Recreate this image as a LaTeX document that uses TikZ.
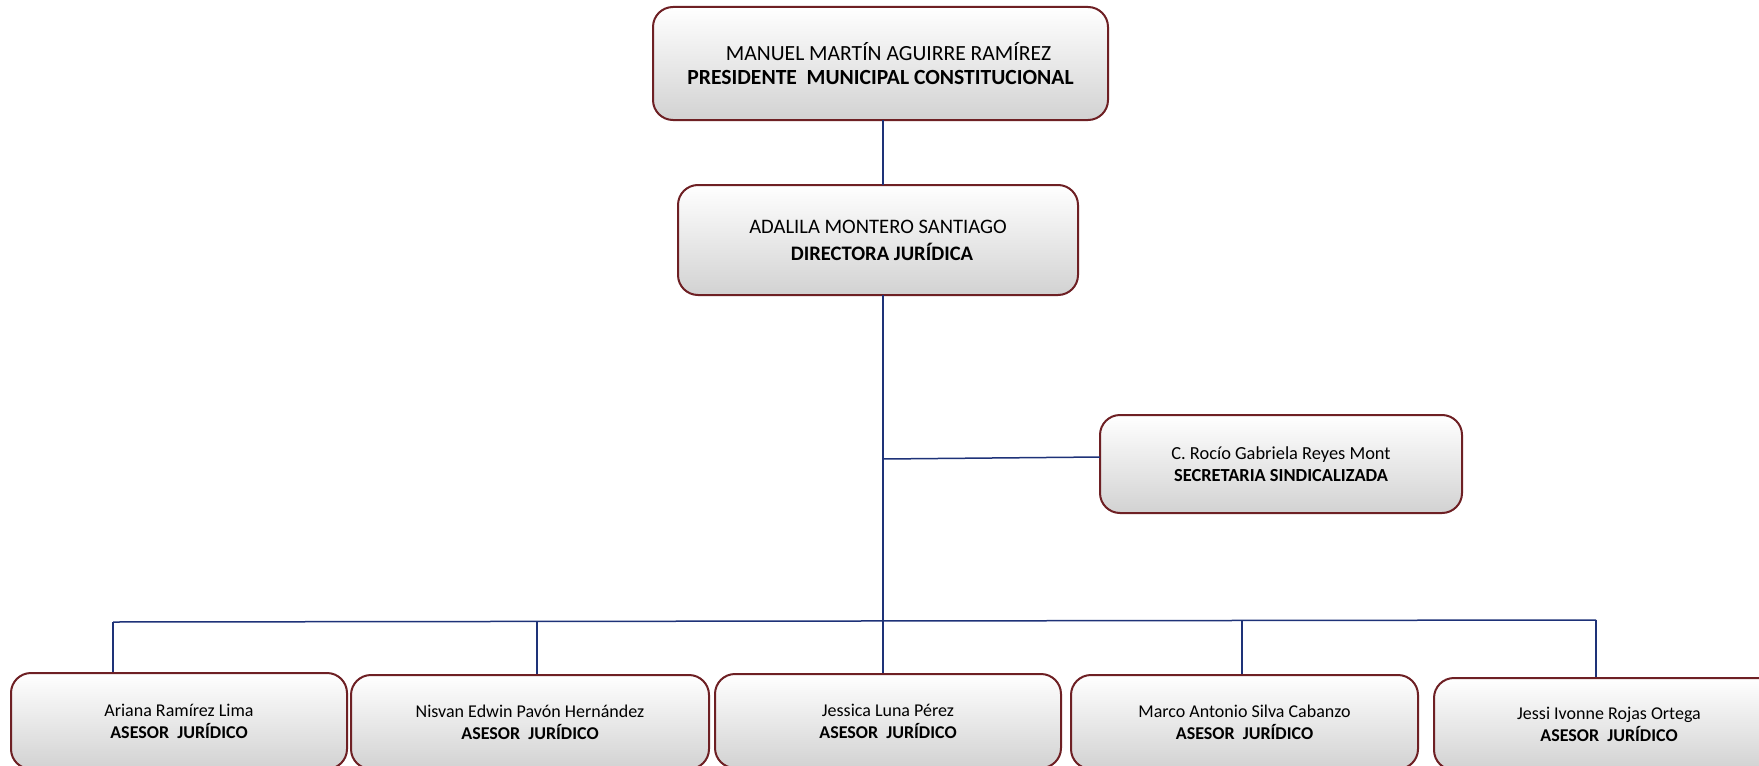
\documentclass[tikz,border=0pt]{standalone}
\usepackage{fontspec}
\setmainfont{Carlito}
\definecolor{boxedge}{RGB}{110,32,36}
\definecolor{boxbot}{RGB}{210,210,210}
\definecolor{linkcol}{RGB}{30,50,120}
\tikzset{
  orgbox/.style={draw=boxedge, line width=1pt, rounded corners=10pt,
    top color=white, bottom color=boxbot, align=center, inner sep=0pt},
  bigtxt/.style={font=\fontsize{10.8}{12.4}\selectfont},
  dirtxt/.style={font=\fontsize{10.3}{13.6}\selectfont},
  smalltxt/.style={font=\fontsize{9}{11}\selectfont},
  midtxt/.style={font=\fontsize{9.2}{11.2}\selectfont},
  link/.style={draw=linkcol, line width=0.75pt}
}
\begin{document}
\begin{tikzpicture}[x=0.5pt,y=-0.5pt]
\clip (0,0) rectangle (1759,765);
\fill[white] (0,0) rectangle (1759,765);
% boxes
\node[orgbox,bigtxt,minimum width=227.5pt,minimum height=56.5pt] (pres) at (880.5,63.5)
  {\hspace*{8pt}MANUEL MARTÍN AGUIRRE RAMÍREZ\\\textbf{PRESIDENTE\ \ MUNICIPAL CONSTITUCIONAL}};
\node[orgbox,dirtxt,minimum width=200pt,minimum height=55pt] (dir) at (878,240)
  {ADALILA MONTERO SANTIAGO\\\hspace*{4pt}\textbf{DIRECTORA JURÍDICA}};
\node[orgbox,midtxt,minimum width=181pt,minimum height=49pt] (sec) at (1281,464)
  {C. Rocío Gabriela Reyes Mont\\\textbf{SECRETARIA SINDICALIZADA}};
\node[orgbox,smalltxt,minimum width=168pt,minimum height=48pt] (a1) at (179,721)
  {Ariana Ramírez Lima\\\textbf{ASESOR\ \ JURÍDICO}};
\node[orgbox,smalltxt,minimum width=179pt,minimum height=47pt] (a2) at (530,722)
  {Nisvan Edwin Pavón Hernández\\\textbf{ASESOR\ \ JURÍDICO}};
\node[orgbox,smalltxt,minimum width=173pt,minimum height=47pt] (a3) at (888,721)
  {Jessica Luna Pérez\\\textbf{ASESOR\ \ JURÍDICO}};
\node[orgbox,smalltxt,minimum width=173.5pt,minimum height=47pt] (a4) at (1244.5,722)
  {Marco Antonio Silva Cabanzo\\\textbf{ASESOR\ \ JURÍDICO}};
\node[orgbox,smalltxt,minimum width=175pt,minimum height=46pt] (a5) at (1609,724)
  {Jessi Ivonne Rojas Ortega\\\textbf{ASESOR\ \ JURÍDICO}};
% connector points
\coordinate (presb) at (883,120);
\coordinate (dirt) at (883,185);
\coordinate (dirb) at (883,295);
\coordinate (secj) at (883,459);
\coordinate (secw) at (1100,457);
\coordinate (b1) at (113,622);
\coordinate (b2) at (537,621.5);
\coordinate (b3) at (883,621);
\coordinate (b4) at (1242,620.5);
\coordinate (b5) at (1596,620);
% connectors
\draw[link] (presb) -- (dirt);
\draw[link] (dirb) -- (a3.north -| dirb);
\draw[link] (secj) -- (secw);
\draw[link] (b1) -- (b5);
\draw[link] (b1) -- (a1.north -| b1);
\draw[link] (b2) -- (a2.north -| b2);
\draw[link] (b4) -- (a4.north -| b4);
\draw[link] (b5) -- (a5.north -| b5);
\end{tikzpicture}
\end{document}
